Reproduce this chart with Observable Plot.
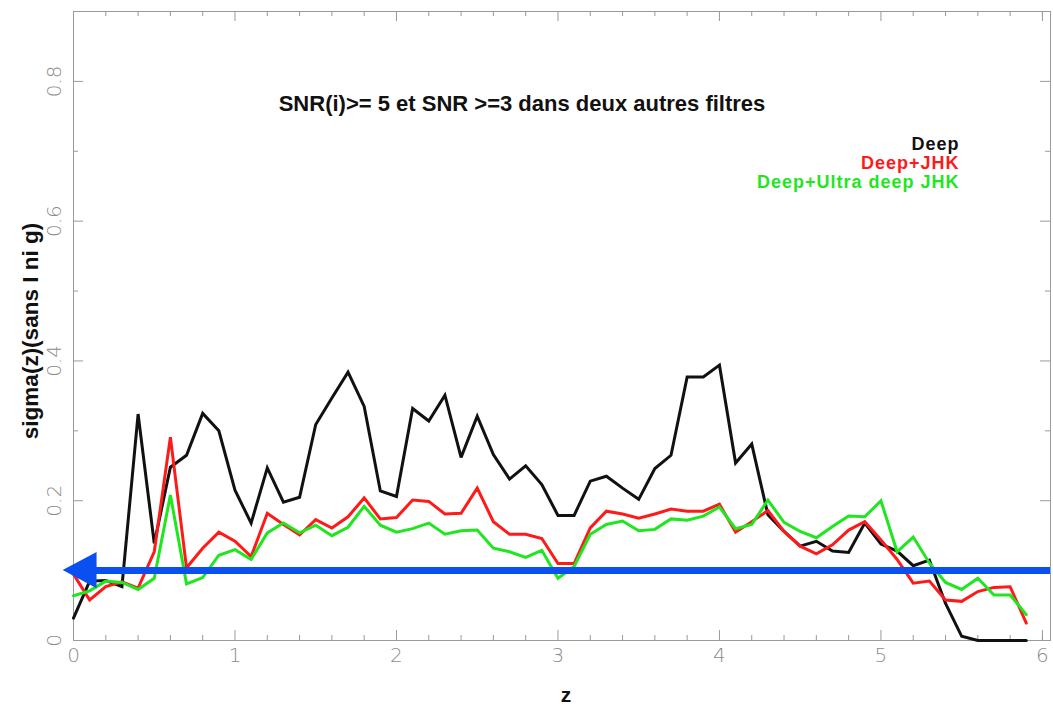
<!DOCTYPE html>
<html>
<head>
<meta charset="utf-8">
<script src="https://cdn.jsdelivr.net/npm/d3@7"></script>
<script src="https://cdn.jsdelivr.net/npm/@observablehq/plot@0.6"></script>
<style>
  html, body { margin: 0; padding: 0; background: #ffffff; }
  #chart { width: 1053px; height: 707px; }
  #chart .legend-text text { letter-spacing: 1px; }
</style>
</head>
<body>
<div id="chart"></div>
<script>
// Redshift bins (bin centres)
const redshift = [
  0.0, 0.1, 0.2, 0.3, 0.4, 0.5, 0.6, 0.7, 0.8, 0.9,
  1.0, 1.1, 1.2, 1.3, 1.4, 1.5, 1.6, 1.7, 1.8, 1.9,
  2.0, 2.1, 2.2, 2.3, 2.4, 2.5, 2.6, 2.7, 2.8, 2.9,
  3.0, 3.1, 3.2, 3.3, 3.4, 3.5, 3.6, 3.7, 3.8, 3.9,
  4.0, 4.1, 4.2, 4.3, 4.4, 4.5, 4.6, 4.7, 4.8, 4.9,
  5.0, 5.1, 5.2, 5.3, 5.4, 5.5, 5.6, 5.7, 5.8, 5.9
];

// sigma(z) per bin for each filter set
const deep = [
  0.032, 0.085, 0.086, 0.077, 0.324, 0.139, 0.248, 0.265, 0.325, 0.300,
  0.215, 0.168, 0.247, 0.198, 0.205, 0.309, 0.347, 0.384, 0.335, 0.214,
  0.206, 0.332, 0.314, 0.351, 0.262, 0.321, 0.266, 0.231, 0.250, 0.223,
  0.179, 0.179, 0.228, 0.235, 0.218, 0.202, 0.246, 0.265, 0.377, 0.377,
  0.394, 0.254, 0.281, 0.180, 0.156, 0.135, 0.142, 0.128, 0.126, 0.168,
  0.138, 0.128, 0.107, 0.115, 0.053, 0.006, 0.000, 0.000, 0.000, 0.000
];
const deepJHK = [
  0.095, 0.058, 0.077, 0.084, 0.075, 0.127, 0.291, 0.104, 0.132, 0.155,
  0.142, 0.120, 0.182, 0.166, 0.151, 0.173, 0.161, 0.177, 0.204, 0.174,
  0.176, 0.201, 0.199, 0.181, 0.182, 0.218, 0.170, 0.152, 0.152, 0.146,
  0.110, 0.110, 0.161, 0.185, 0.181, 0.175, 0.181, 0.188, 0.185, 0.185,
  0.195, 0.155, 0.170, 0.186, 0.156, 0.135, 0.124, 0.137, 0.158, 0.170,
  0.144, 0.116, 0.082, 0.085, 0.058, 0.056, 0.070, 0.076, 0.077, 0.025
];
const deepUltraJHK = [
  0.064, 0.071, 0.085, 0.083, 0.073, 0.089, 0.208, 0.081, 0.090, 0.122,
  0.130, 0.116, 0.154, 0.168, 0.154, 0.165, 0.150, 0.162, 0.192, 0.165,
  0.155, 0.160, 0.168, 0.152, 0.157, 0.158, 0.132, 0.127, 0.119, 0.129,
  0.089, 0.106, 0.152, 0.166, 0.171, 0.157, 0.159, 0.174, 0.172, 0.178,
  0.191, 0.160, 0.166, 0.201, 0.169, 0.156, 0.147, 0.163, 0.178, 0.177,
  0.200, 0.127, 0.148, 0.111, 0.083, 0.073, 0.089, 0.065, 0.065, 0.037
];

const seriesNames = ["Deep", "Deep+JHK", "Deep+Ultra deep JHK"];
const seriesColors = ["#111111", "#ff1a1a", "#1fe61f"];

// Axis ticks
const xMajorTicks = [0, 1, 2, 3, 4, 5, 6];
const xTickLabels = ["0", "1", "2", "3", "4", "5", "6"];
const xMinorTicks = [0.2, 0.4, 0.6, 0.8, 1.2, 1.4, 1.6, 1.8, 2.2, 2.4, 2.6, 2.8,
                     3.2, 3.4, 3.6, 3.8, 4.2, 4.4, 4.6, 4.8, 5.2, 5.4, 5.6, 5.8, 6.0];
const yMajorTicks = [0, 0.2, 0.4, 0.6, 0.8];
const yTickLabels = ["0", "0.2", "0.4", "0.6", "0.8"];
const yMinorTicks = [0.1, 0.3, 0.5, 0.7];

// Texts
const titleText = "SNR(i)>= 5 et SNR >=3 dans deux autres filtres";
const xTitle = "z";
const yTitle = "sigma(z)(sans I ni g)";

// Reference level arrow (sigma = 0.1), drawn from the right edge towards z < 0
const refLevel = 0.1;
const refFrom = 6.05;
const refTip = -0.064;
const refHeadLength = 0.21;
const refHeadHalf = 0.026;
const refColor = "#0a50f0";

// Long-format table for the three curves
const seriesValues = [deep, deepJHK, deepUltraJHK];
const rows = seriesNames.flatMap((name, s) =>
  redshift.map((z, i) => ({z, sigma: seriesValues[s][i], series: name}))
);
const headRows = [
  {z: refTip, lo: refLevel, hi: refLevel},
  {z: refTip + refHeadLength, lo: refLevel - refHeadHalf, hi: refLevel + refHeadHalf}
];

const W = 1053, H = 707;
const mL = 73, mR = 3, mT = 11, mB = 67;
const innerW = W - mL - mR, innerH = H - mT - mB;
const tickGray = "#9a9a9a";
const labelFont = "'DejaVu Sans', sans-serif";
const textFont = "'Liberation Sans', Arial, sans-serif";

// Legend entries, right-aligned, one line each
const legendMarks = seriesNames.map((name, i) =>
  Plot.text([name], {
    frameAnchor: "top-right", text: d => d, fill: seriesColors[i],
    dx: -91, dy: 133 + i * 19, textAnchor: "end", lineAnchor: "middle",
    fontSize: 18, fontFamily: textFont, fontWeight: 700,
    className: "legend-text"
  })
);

const plot = Plot.plot({
  width: W,
  height: H,
  marginLeft: mL,
  marginRight: mR,
  marginTop: mT,
  marginBottom: mB,
  x: {domain: [0, 6.05], axis: null},
  y: {domain: [0, 0.9], axis: null},
  color: {domain: seriesNames, range: seriesColors},
  style: {background: "#ffffff", overflow: "visible"},
  marks: [
    Plot.frame({stroke: tickGray, strokeWidth: 1}),
    // inward ticks on all four sides
    Plot.tickX(xMajorTicks, {x: d => d, insetTop: innerH - 10, stroke: tickGray}),
    Plot.tickX(xMinorTicks, {x: d => d, insetTop: innerH - 5, stroke: tickGray}),
    Plot.tickX(xMajorTicks, {x: d => d, insetBottom: innerH - 10, stroke: tickGray}),
    Plot.tickX(xMinorTicks, {x: d => d, insetBottom: innerH - 5, stroke: tickGray}),
    Plot.tickY(yMajorTicks, {y: d => d, insetRight: innerW - 10, stroke: tickGray}),
    Plot.tickY(yMinorTicks, {y: d => d, insetRight: innerW - 5, stroke: tickGray}),
    Plot.tickY(yMajorTicks, {y: d => d, insetLeft: innerW - 10, stroke: tickGray}),
    Plot.tickY(yMinorTicks, {y: d => d, insetLeft: innerW - 5, stroke: tickGray}),
    // tick labels
    Plot.text(xMajorTicks, {
      x: d => d, frameAnchor: "bottom", text: (d, i) => xTickLabels[i],
      lineAnchor: "top", dy: 7, fontSize: 20, fill: "#8c8c8c",
      fontFamily: labelFont, fontWeight: 200
    }),
    Plot.text(yMajorTicks, {
      y: d => d, frameAnchor: "left", text: (d, i) => yTickLabels[i],
      rotate: -90, textAnchor: "middle", lineAnchor: "middle", dx: -19,
      fontSize: 20, fill: "#8c8c8c", fontFamily: labelFont, fontWeight: 200
    }),
    // curves
    Plot.line(rows, {
      x: "z", y: "sigma", z: "series", stroke: "series",
      strokeWidth: 3, strokeLinejoin: "miter", strokeMiterlimit: 3
    }),
    // reference arrow
    Plot.ruleY([refLevel], {x1: refTip + refHeadLength - 0.01, x2: refFrom, stroke: refColor, strokeWidth: 7}),
    Plot.areaY(headRows, {x: "z", y1: "lo", y2: "hi", fill: refColor}),
    // titles
    Plot.text([titleText], {
      frameAnchor: "top", text: d => d, dx: -40, dy: 92, lineAnchor: "middle",
      fontSize: 22, fontFamily: textFont, fontWeight: 600, fill: "#111"
    }),
    ...legendMarks,
    Plot.text([xTitle], {
      frameAnchor: "bottom", text: d => d, dx: 4, dy: 55, lineAnchor: "middle",
      fontSize: 21, fontWeight: 700, fontFamily: textFont, fill: "#111"
    }),
    Plot.text([yTitle], {
      frameAnchor: "left", text: d => d, rotate: -90, dx: -43, dy: 5,
      textAnchor: "middle", lineAnchor: "middle",
      fontSize: 22.5, fontWeight: 700, fontFamily: textFont, fill: "#111"
    })
  ]
});

document.getElementById("chart").appendChild(plot);
</script>
</body>
</html>
